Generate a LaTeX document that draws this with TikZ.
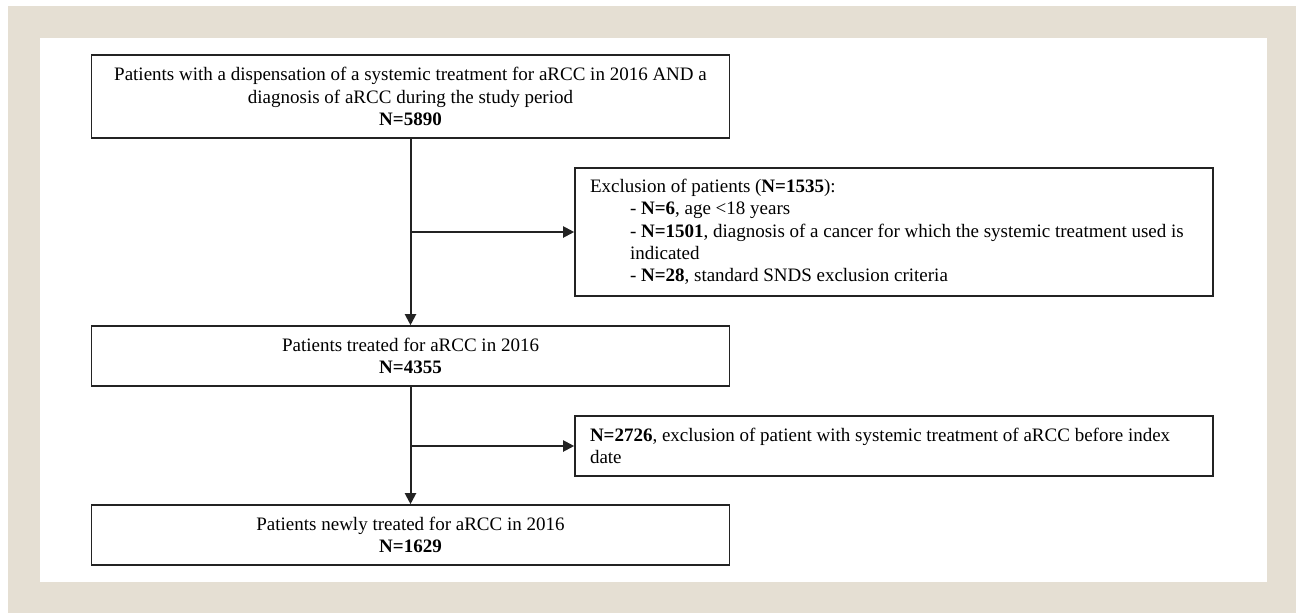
\documentclass[tikz,border=0pt]{standalone}
\usepackage{fontspec}
\setmainfont{Liberation Serif}
\usetikzlibrary{arrows.meta}
\definecolor{beige}{RGB}{229,223,211}
\definecolor{boxline}{RGB}{35,35,35}
\begin{document}
\begin{tikzpicture}[x=1pt,y=-1pt,
  box/.style={draw=boxline, line width=1.6pt, fill=white, inner xsep=15pt, inner ysep=0pt,
    font=\fontsize{19}{22.3}\selectfont, minimum width=638pt},
  cbox/.style={box, align=flush center, text width=608pt},
  lbox/.style={box, align=flush left, text width=608pt},
  arr/.style={draw=boxline, line width=2pt, -{Triangle[length=11pt,width=11pt]}}]
\useasboundingbox (0,0) rectangle (1296,613);
\fill[white] (0,0) rectangle (1296,613);
\fill[beige] (8,6) rectangle (1296,613);
\fill[white] (40,38) rectangle (1267,582);

\node[cbox, minimum height=83pt] (box1) at (410.5,96.5)
  {Patients with a dispensation of a systemic treatment for aRCC in 2016 AND a\\
   diagnosis of aRCC during the study period\\ \textbf{N=5890}};
\node[lbox, minimum height=128pt] (box2) at (894,232)
  {Exclusion of patients (\textbf{N=1535}):\\
   \hspace*{40pt}- \textbf{N=6}, age \textless18 years\\
   \hspace*{40pt}- \textbf{N=1501}, diagnosis of a cancer for which the systemic treatment used is\\
   \hspace*{40pt}indicated\\
   \hspace*{40pt}- \textbf{N=28}, standard SNDS exclusion criteria};
\node[cbox, minimum height=60pt] (box3) at (410.5,356)
  {Patients treated for aRCC in 2016\\ \textbf{N=4355}};
\node[lbox, minimum height=60pt] (box4) at (894,446)
  {\textbf{N=2726}, exclusion of patient with systemic treatment of aRCC before index\\ date};
\node[cbox, minimum height=60pt] (box5) at (410.5,535)
  {Patients newly treated for aRCC in 2016\\ \textbf{N=1629}};

\coordinate (j1) at (box1.south |- box2.west);
\coordinate (j2) at (box3.south |- box4.west);
\draw[arr] (box1.south) -- (box3.north);
\draw[arr] (j1) -- (box2.west);
\draw[arr] (box3.south) -- (box5.north);
\draw[arr] (j2) -- (box4.west);
\end{tikzpicture}
\end{document}
